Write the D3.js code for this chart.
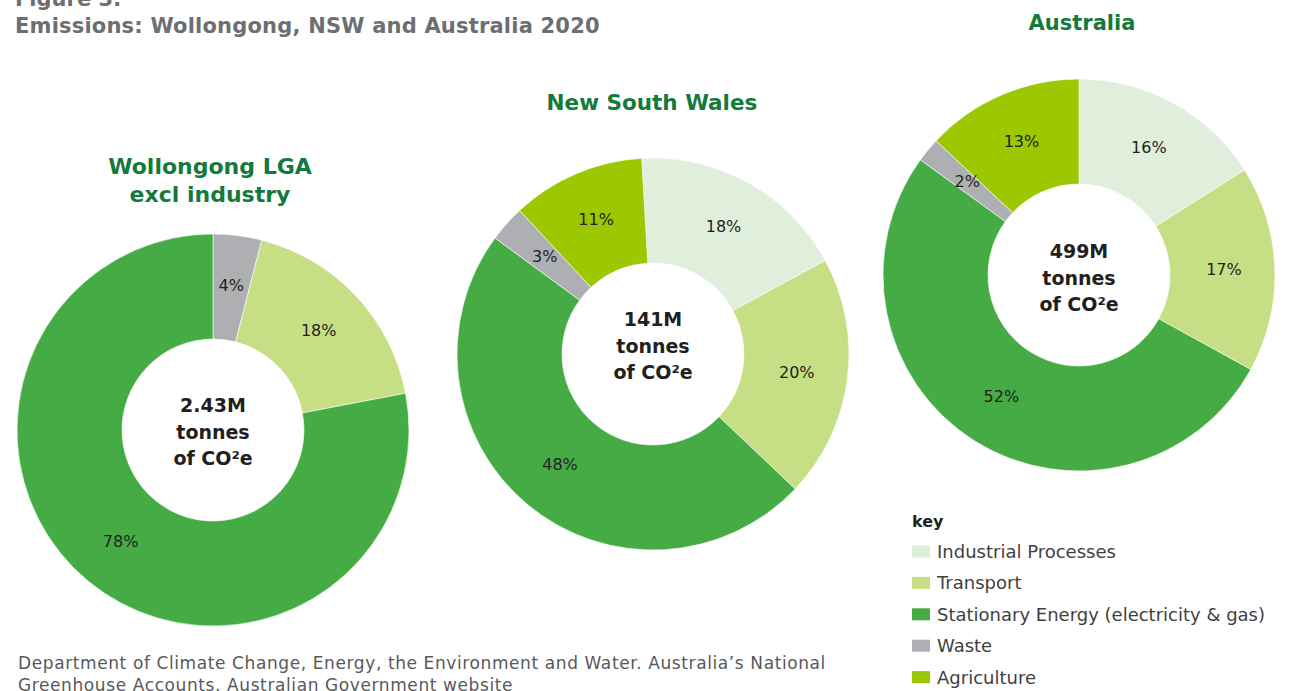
<!DOCTYPE html>
<html>
<head>
<meta charset="utf-8">
<script src="https://cdn.jsdelivr.net/npm/d3@7"></script>
<style>
  body { margin: 0; background: #fff; }
  svg { display: block; font-family: "DejaVu Sans", sans-serif; }
</style>
</head>
<body>
<div id="chart"></div>
<script>
// categories used across all three donuts (legend order)
const categories = ["Industrial Processes", "Transport", "Stationary Energy (electricity & gas)", "Waste", "Agriculture"];

// each donut, clockwise from its start angle
const wollongongCats = ["Waste", "Transport", "Stationary Energy (electricity & gas)"];
const wollongongValues = [4, 18, 78];
const nswCats = ["Industrial Processes", "Transport", "Stationary Energy (electricity & gas)", "Waste", "Agriculture"];
const nswValues = [18, 20, 48, 3, 11];
const ausCats = ["Industrial Processes", "Transport", "Stationary Energy (electricity & gas)", "Waste", "Agriculture"];
const ausValues = [16, 17, 52, 2, 13];

const regionTitles = [["Wollongong LGA", "excl industry"], ["New South Wales"], ["Australia"]];
const totals = ["2.43M", "141M", "499M"];

const sourceLines = ["Department of Climate Change, Energy, the Environment and Water. Australia\u2019s National",
                     "Greenhouse Accounts, Australian Government website"];

function main() {
    var width = 1304, height = 691;
    var outerR = 196, innerR = 91;

    var color = d3.scaleOrdinal()
        .domain(categories)
        .range(["#dfefdc", "#c6df85", "#45ab45", "#aeafb2", "#9bc800"]);

    var svg = d3.select("#chart").append("svg")
        .attr("width", width)
        .attr("height", height);

    // heading
    svg.append("text")
        .attr("x", 15).attr("y", 6)
        .attr("fill", "#6d6e71").attr("font-size", 21).attr("font-weight", 700)
        .text("Figure 3:");
    svg.append("text")
        .attr("x", 15).attr("y", 33)
        .attr("fill", "#6d6e71").attr("font-size", 21).attr("font-weight", 700)
        .attr("letter-spacing", 0.2)
        .text("Emissions: Wollongong, NSW and Australia 2020");

    var charts = [
        {cats: wollongongCats, values: wollongongValues, cx: 213, cy: 430, start: 0, titleX: 210, titleY: 174, titleSize: 22, textY: 412},
        {cats: nswCats, values: nswValues, cx: 653, cy: 354, start: -3.3, titleX: 652, titleY: 110, titleSize: 21.5, textY: 326},
        {cats: ausCats, values: ausValues, cx: 1079, cy: 275, start: 0, titleX: 1082, titleY: 30, titleSize: 21, textY: 258}
    ];

    var arc = d3.arc().innerRadius(innerR).outerRadius(outerR);
    var labelArc = d3.arc().innerRadius(145).outerRadius(145);

    charts.forEach(function(c, i) {
        var s = c.start * Math.PI / 180;
        var pie = d3.pie().sort(null).value(function(d) { return d.v; })
            .startAngle(s).endAngle(s + 2 * Math.PI);
        var data = c.cats.map(function(k, j) { return {k: k, v: c.values[j]}; });

        var g = svg.append("g").attr("transform", "translate(" + c.cx + "," + c.cy + ")");

        g.selectAll("path")
            .data(pie(data))
            .enter().append("path")
            .attr("d", arc)
            .attr("fill", function(d) { return color(d.data.k); })
            .attr("stroke", "#fff")
            .attr("stroke-width", 0.6);

        g.selectAll("text.pct")
            .data(pie(data))
            .enter().append("text")
            .attr("class", "pct")
            .attr("transform", function(d) { return "translate(" + labelArc.centroid(d) + ")"; })
            .attr("text-anchor", "middle")
            .attr("dy", "0.3em")
            .attr("font-size", 16)
            .attr("fill", "#231f20")
            .text(function(d) { return d.data.v + "%"; });

        // region title
        regionTitles[i].forEach(function(t, j) {
            svg.append("text")
                .attr("x", c.titleX).attr("y", c.titleY + j * 28)
                .attr("text-anchor", "middle")
                .attr("fill", "#137a3b").attr("font-size", c.titleSize).attr("font-weight", 700)
                .text(t);
        });

        // total in the hole
        var mid = svg.append("text")
            .attr("text-anchor", "middle")
            .attr("fill", "#231f20").attr("font-size", 19).attr("font-weight", 700);
        [totals[i], "tonnes", "of CO\u00b2e"].forEach(function(t, j) {
            mid.append("tspan")
                .attr("x", c.cx)
                .attr("y", c.textY + j * 26.5)
                .text(t);
        });
    });

    // legend
    var legend = svg.append("g").attr("transform", "translate(912,0)");
    legend.append("text")
        .attr("x", 0).attr("y", 527)
        .attr("fill", "#231f20").attr("font-size", 16).attr("font-weight", 700)
        .text("key");
    var rows = legend.selectAll("g.row")
        .data(categories)
        .enter().append("g")
        .attr("class", "row")
        .attr("transform", function(d, i) { return "translate(0," + (551.5 + i * 31.4) + ")"; });
    rows.append("rect")
        .attr("x", 0).attr("y", -6)
        .attr("width", 18).attr("height", 12)
        .attr("fill", function(d) { return color(d); });
    rows.append("text")
        .attr("x", 25).attr("dy", "0.36em")
        .attr("fill", "#3f3f41").attr("font-size", 18)
        .text(function(d) { return d; });

    // source
    sourceLines.forEach(function(t, i) {
        svg.append("text")
            .attr("x", 18).attr("y", 669 + i * 22)
            .attr("fill", "#58595b").attr("font-size", 17)
            .attr("letter-spacing", 0.6)
            .text(t);
    });
}
main();
</script>
</body>
</html>
